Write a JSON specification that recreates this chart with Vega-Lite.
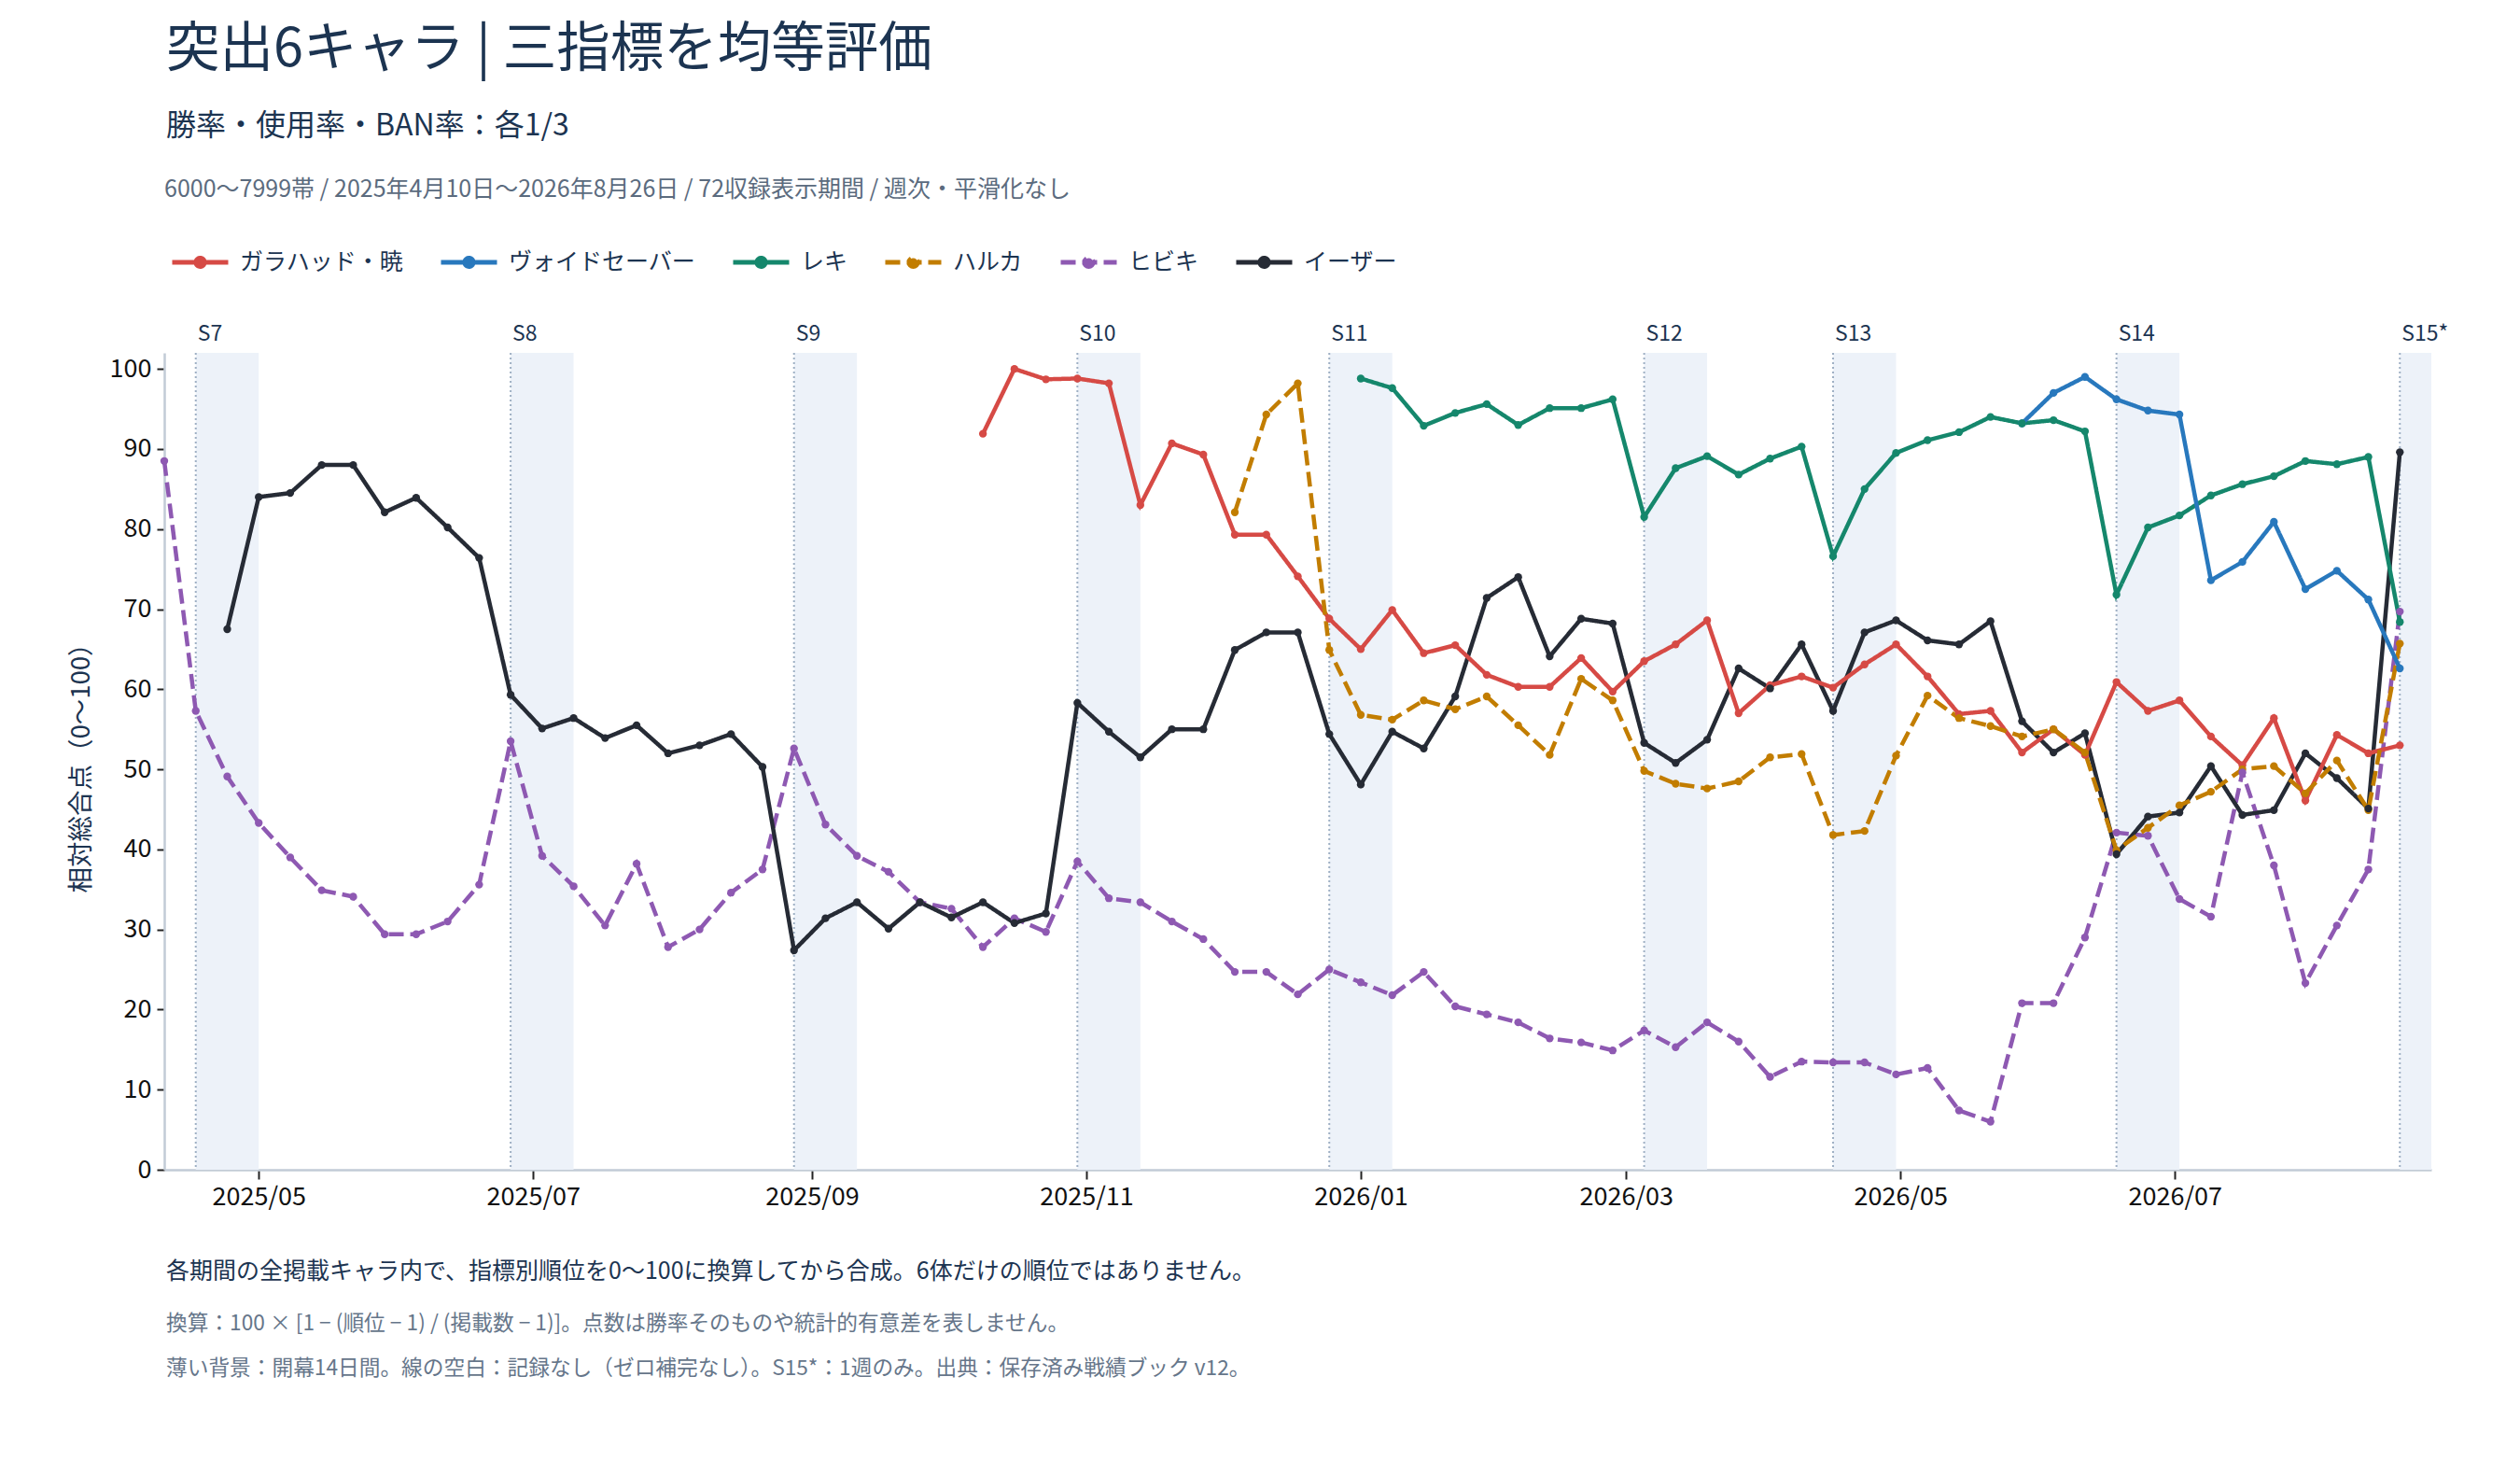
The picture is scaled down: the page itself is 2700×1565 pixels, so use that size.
{
  "$schema": "https://vega.github.io/schema/vega-lite/v6.json",
  "background": "white",
  "padding": {"left": 73, "top": 24, "right": 60, "bottom": 20},
  "config": {
    "font": "Noto Sans CJK JP",
    "view": {"stroke": null}
  },
  "title": {
    "text": "突出6キャラ | 三指標を均等評価",
    "subtitle": "勝率・使用率・BAN率：各1/3",
    "anchor": "start",
    "dx": 105,
    "fontSize": 57.5,
    "fontWeight": "normal",
    "color": "#1c3451",
    "subtitleFontSize": 32,
    "subtitleColor": "#1c3451",
    "subtitlePadding": 37,
    "offset": 39
  },
  "datasets": {
    "seasons": [
      {"season": "S7", "start": "2025-04-17", "end": "2025-05-01"},
      {"season": "S8", "start": "2025-06-26", "end": "2025-07-10"},
      {"season": "S9", "start": "2025-08-28", "end": "2025-09-11"},
      {"season": "S10", "start": "2025-10-30", "end": "2025-11-13"},
      {"season": "S11", "start": "2025-12-25", "end": "2026-01-08"},
      {"season": "S12", "start": "2026-03-05", "end": "2026-03-19"},
      {"season": "S13", "start": "2026-04-16", "end": "2026-04-30"},
      {"season": "S14", "start": "2026-06-18", "end": "2026-07-02"},
      {"season": "S15*", "start": "2026-08-20", "end": "2026-09-03"}
    ],
    "scores": [
      {"d": "2025-04-10", "ヒビキ": 88.5},
      {"d": "2025-04-17", "ヒビキ": 57.3},
      {"d": "2025-04-24", "ヒビキ": 49.1, "イーザー": 67.5},
      {"d": "2025-05-01", "ヒビキ": 43.3, "イーザー": 84.0},
      {"d": "2025-05-08", "ヒビキ": 39.0, "イーザー": 84.5},
      {"d": "2025-05-15", "ヒビキ": 34.9, "イーザー": 88.0},
      {"d": "2025-05-22", "ヒビキ": 34.1, "イーザー": 88.0},
      {"d": "2025-05-29", "ヒビキ": 29.4, "イーザー": 82.1},
      {"d": "2025-06-05", "ヒビキ": 29.4, "イーザー": 83.9},
      {"d": "2025-06-12", "ヒビキ": 31.0, "イーザー": 80.2},
      {"d": "2025-06-19", "ヒビキ": 35.6, "イーザー": 76.4},
      {"d": "2025-06-26", "ヒビキ": 53.5, "イーザー": 59.3},
      {"d": "2025-07-03", "ヒビキ": 39.2, "イーザー": 55.1},
      {"d": "2025-07-10", "ヒビキ": 35.4, "イーザー": 56.4},
      {"d": "2025-07-17", "ヒビキ": 30.5, "イーザー": 53.9},
      {"d": "2025-07-24", "ヒビキ": 38.2, "イーザー": 55.5},
      {"d": "2025-07-31", "ヒビキ": 27.8, "イーザー": 52.0},
      {"d": "2025-08-07", "ヒビキ": 30.0, "イーザー": 53.0},
      {"d": "2025-08-14", "ヒビキ": 34.6, "イーザー": 54.4},
      {"d": "2025-08-21", "ヒビキ": 37.5, "イーザー": 50.3},
      {"d": "2025-08-28", "ヒビキ": 52.6, "イーザー": 27.4},
      {"d": "2025-09-04", "ヒビキ": 43.1, "イーザー": 31.4},
      {"d": "2025-09-11", "ヒビキ": 39.2, "イーザー": 33.4},
      {"d": "2025-09-18", "ヒビキ": 37.2, "イーザー": 30.1},
      {"d": "2025-09-25", "ヒビキ": 33.4, "イーザー": 33.4},
      {"d": "2025-10-02", "ヒビキ": 32.6, "イーザー": 31.5},
      {"d": "2025-10-09", "ガラハッド・暁": 91.9, "ヒビキ": 27.8, "イーザー": 33.4},
      {"d": "2025-10-16", "ガラハッド・暁": 100.0, "ヒビキ": 31.4, "イーザー": 30.8},
      {"d": "2025-10-23", "ガラハッド・暁": 98.7, "ヒビキ": 29.7, "イーザー": 32.0},
      {"d": "2025-10-30", "ガラハッド・暁": 98.8, "ヒビキ": 38.5, "イーザー": 58.3},
      {"d": "2025-11-06", "ガラハッド・暁": 98.2, "ヒビキ": 33.9, "イーザー": 54.7},
      {"d": "2025-11-13", "ガラハッド・暁": 83.0, "ヒビキ": 33.4, "イーザー": 51.5},
      {"d": "2025-11-20", "ガラハッド・暁": 90.7, "ヒビキ": 31.0, "イーザー": 55.0},
      {"d": "2025-11-27", "ガラハッド・暁": 89.3, "ヒビキ": 28.8, "イーザー": 55.0},
      {"d": "2025-12-04", "ガラハッド・暁": 79.3, "ハルカ": 82.1, "ヒビキ": 24.7, "イーザー": 64.9},
      {"d": "2025-12-11", "ガラハッド・暁": 79.3, "ハルカ": 94.3, "ヒビキ": 24.7, "イーザー": 67.1},
      {"d": "2025-12-18", "ガラハッド・暁": 74.1, "ハルカ": 98.2, "ヒビキ": 21.9, "イーザー": 67.1},
      {"d": "2025-12-25", "ガラハッド・暁": 68.8, "ハルカ": 64.9, "ヒビキ": 25.0, "イーザー": 54.4},
      {"d": "2026-01-01", "ガラハッド・暁": 65.0, "レキ": 98.8, "ハルカ": 56.8, "ヒビキ": 23.4, "イーザー": 48.1},
      {"d": "2026-01-08", "ガラハッド・暁": 69.9, "レキ": 97.6, "ハルカ": 56.2, "ヒビキ": 21.8, "イーザー": 54.7},
      {"d": "2026-01-15", "ガラハッド・暁": 64.5, "レキ": 92.9, "ハルカ": 58.6, "ヒビキ": 24.7, "イーザー": 52.6},
      {"d": "2026-01-22", "ガラハッド・暁": 65.5, "レキ": 94.5, "ハルカ": 57.5, "ヒビキ": 20.4, "イーザー": 59.1},
      {"d": "2026-01-29", "ガラハッド・暁": 61.8, "レキ": 95.6, "ハルカ": 59.1, "ヒビキ": 19.4, "イーザー": 71.4},
      {"d": "2026-02-05", "ガラハッド・暁": 60.3, "レキ": 93.0, "ハルカ": 55.5, "ヒビキ": 18.4, "イーザー": 74.0},
      {"d": "2026-02-12", "ガラハッド・暁": 60.3, "レキ": 95.1, "ハルカ": 51.8, "ヒビキ": 16.4, "イーザー": 64.1},
      {"d": "2026-02-19", "ガラハッド・暁": 63.9, "レキ": 95.1, "ハルカ": 61.3, "ヒビキ": 15.9, "イーザー": 68.8},
      {"d": "2026-02-26", "ガラハッド・暁": 59.7, "レキ": 96.2, "ハルカ": 58.6, "ヒビキ": 14.9, "イーザー": 68.2},
      {"d": "2026-03-05", "ガラハッド・暁": 63.5, "レキ": 81.5, "ハルカ": 49.8, "ヒビキ": 17.4, "イーザー": 53.3},
      {"d": "2026-03-12", "ガラハッド・暁": 65.6, "レキ": 87.6, "ハルカ": 48.2, "ヒビキ": 15.3, "イーザー": 50.8},
      {"d": "2026-03-19", "ガラハッド・暁": 68.6, "レキ": 89.1, "ハルカ": 47.6, "ヒビキ": 18.4, "イーザー": 53.7},
      {"d": "2026-03-26", "ガラハッド・暁": 57.0, "レキ": 86.8, "ハルカ": 48.5, "ヒビキ": 16.0, "イーザー": 62.6},
      {"d": "2026-04-02", "ガラハッド・暁": 60.5, "レキ": 88.8, "ハルカ": 51.5, "ヒビキ": 11.6, "イーザー": 60.1},
      {"d": "2026-04-09", "ガラハッド・暁": 61.6, "レキ": 90.3, "ハルカ": 51.9, "ヒビキ": 13.5, "イーザー": 65.6},
      {"d": "2026-04-16", "ガラハッド・暁": 60.2, "レキ": 76.6, "ハルカ": 41.8, "ヒビキ": 13.4, "イーザー": 57.3},
      {"d": "2026-04-23", "ガラハッド・暁": 63.1, "レキ": 85.0, "ハルカ": 42.3, "ヒビキ": 13.4, "イーザー": 67.1},
      {"d": "2026-04-30", "ガラハッド・暁": 65.6, "レキ": 89.5, "ハルカ": 51.7, "ヒビキ": 11.9, "イーザー": 68.6},
      {"d": "2026-05-07", "ガラハッド・暁": 61.6, "レキ": 91.1, "ハルカ": 59.2, "ヒビキ": 12.7, "イーザー": 66.1},
      {"d": "2026-05-14", "ガラハッド・暁": 56.9, "レキ": 92.1, "ハルカ": 56.4, "ヒビキ": 7.4, "イーザー": 65.6},
      {"d": "2026-05-21", "ガラハッド・暁": 57.3, "レキ": 94.0, "ハルカ": 55.4, "ヒビキ": 6.0, "イーザー": 68.5},
      {"d": "2026-05-28", "ガラハッド・暁": 52.1, "ヴォイドセーバー": 93.2, "レキ": 93.2, "ハルカ": 54.1, "ヒビキ": 20.8, "イーザー": 56.0},
      {"d": "2026-06-04", "ガラハッド・暁": 55.0, "ヴォイドセーバー": 97.0, "レキ": 93.6, "ハルカ": 55.0, "ヒビキ": 20.8, "イーザー": 52.1},
      {"d": "2026-06-11", "ガラハッド・暁": 51.8, "ヴォイドセーバー": 99.0, "レキ": 92.2, "ハルカ": 52.1, "ヒビキ": 29.0, "イーザー": 54.5},
      {"d": "2026-06-18", "ガラハッド・暁": 60.9, "ヴォイドセーバー": 96.2, "レキ": 71.8, "ハルカ": 39.9, "ヒビキ": 42.1, "イーザー": 39.4},
      {"d": "2026-06-25", "ガラハッド・暁": 57.3, "ヴォイドセーバー": 94.8, "レキ": 80.2, "ハルカ": 42.7, "ヒビキ": 41.7, "イーザー": 44.1},
      {"d": "2026-07-02", "ガラハッド・暁": 58.6, "ヴォイドセーバー": 94.3, "レキ": 81.7, "ハルカ": 45.5, "ヒビキ": 33.8, "イーザー": 44.6},
      {"d": "2026-07-09", "ガラハッド・暁": 54.1, "ヴォイドセーバー": 73.6, "レキ": 84.2, "ハルカ": 47.2, "ヒビキ": 31.6, "イーザー": 50.4},
      {"d": "2026-07-16", "ガラハッド・暁": 50.5, "ヴォイドセーバー": 75.9, "レキ": 85.6, "ハルカ": 50.0, "ヒビキ": 49.6, "イーザー": 44.3},
      {"d": "2026-07-23", "ガラハッド・暁": 56.4, "ヴォイドセーバー": 80.9, "レキ": 86.6, "ハルカ": 50.4, "ヒビキ": 38.0, "イーザー": 44.9},
      {"d": "2026-07-30", "ガラハッド・暁": 46.1, "ヴォイドセーバー": 72.5, "レキ": 88.5, "ハルカ": 47.0, "ヒビキ": 23.3, "イーザー": 52.0},
      {"d": "2026-08-06", "ガラハッド・暁": 54.3, "ヴォイドセーバー": 74.8, "レキ": 88.1, "ハルカ": 51.1, "ヒビキ": 30.5, "イーザー": 48.9},
      {"d": "2026-08-13", "ガラハッド・暁": 52.0, "ヴォイドセーバー": 71.2, "レキ": 89.0, "ハルカ": 44.9, "ヒビキ": 37.5, "イーザー": 45.1},
      {"d": "2026-08-20", "ガラハッド・暁": 53.0, "ヴォイドセーバー": 62.6, "レキ": 68.4, "ハルカ": 65.7, "ヒビキ": 69.7, "イーザー": 89.6}
    ]
  },
  "vconcat": [
    {
      "width": 2429,
      "height": 875,
      "title": {
        "text": "各期間の全掲載キャラ内で、指標別順位を0〜100に換算してから合成。6体だけの順位ではありません。",
        "subtitle": [
          "換算：100 × [1 − (順位 − 1) / (掲載数 − 1)]。点数は勝率そのものや統計的有意差を表しません。",
          "薄い背景：開幕14日間。線の空白：記録なし（ゼロ補完なし）。S15*：1週のみ。出典：保存済み戦績ブック v12。"
        ],
        "orient": "bottom",
        "anchor": "start",
        "dx": 105,
        "fontSize": 25,
        "fontWeight": "normal",
        "color": "#1c3451",
        "subtitleFontSize": 22.7,
        "subtitleColor": "#66768a",
        "subtitlePadding": 32,
        "subtitleLineHeight": 48,
        "offset": 55
      },
      "layer": [
        {
          "data": {"name": "seasons"},
          "mark": {"type": "rect", "color": "#edf2f9", "clip": true},
          "encoding": {
            "x": {
              "field": "start",
              "type": "temporal",
              "scale": {"type": "utc", "domain": [{"year": 2025, "month": 4, "date": 10, "utc": true}, {"year": 2026, "month": 8, "date": 27, "utc": true}]},
              "axis": {
                "title": null,
                "labelExpr": "utcFormat(datum.value, '%Y/%m')",
                "tickCount": {"interval": "month", "step": 2},
                "grid": false,
                "labelFontSize": 27,
                "labelColor": "#111111",
                "labelPadding": 6,
                "tickColor": "#222222",
                "tickSize": 10,
                "tickWidth": 2,
                "domainColor": "#c2cbd6",
                "domainWidth": 2.5
              }
            },
            "x2": {"field": "end"}
          }
        },
        {
          "data": {"name": "seasons"},
          "mark": {"type": "rule", "color": "#9fb0c4", "strokeDash": [2, 3], "strokeWidth": 2},
          "encoding": {
            "x": {
              "field": "start",
              "type": "temporal",
              "scale": {"type": "utc", "domain": [{"year": 2025, "month": 4, "date": 10, "utc": true}, {"year": 2026, "month": 8, "date": 27, "utc": true}]}
            }
          }
        },
        {
          "data": {"name": "seasons"},
          "mark": {"type": "text", "align": "left", "baseline": "bottom", "dx": 2, "dy": -8, "fontSize": 23, "color": "#1c3451"},
          "encoding": {
            "x": {
              "field": "start",
              "type": "temporal",
              "scale": {"type": "utc", "domain": [{"year": 2025, "month": 4, "date": 10, "utc": true}, {"year": 2026, "month": 8, "date": 27, "utc": true}]}
            },
            "y": {"datum": 102, "type": "quantitative", "scale": {"domain": [0, 102], "nice": false}},
            "text": {"field": "season"}
          }
        },
        {
          "data": {"name": "scores"},
          "transform": [
            {"fold": ["ガラハッド・暁", "ヴォイドセーバー", "レキ", "ハルカ", "ヒビキ", "イーザー"], "as": ["c", "v"]},
            {"filter": "isValid(datum.v)"}
          ],
          "mark": {"type": "line", "strokeWidth": 4.5, "point": {"filled": true, "size": 70}},
          "encoding": {
            "x": {
              "field": "d",
              "type": "temporal",
              "scale": {"type": "utc", "domain": [{"year": 2025, "month": 4, "date": 10, "utc": true}, {"year": 2026, "month": 8, "date": 27, "utc": true}]}
            },
            "y": {
              "field": "v",
              "type": "quantitative",
              "scale": {"domain": [0, 102], "nice": false},
              "axis": {
                "title": "相対総合点（0〜100）",
                "titleFontSize": 27.5,
                "titleFontWeight": "normal",
                "titleColor": "#1c3451",
                "titlePadding": 16,
                "values": [0, 10, 20, 30, 40, 50, 60, 70, 80, 90, 100],
                "labelFontSize": 27,
                "labelColor": "#111111",
                "labelPadding": 6,
                "gridColor": "#e9e9e9",
                "gridWidth": 2,
                "domainColor": "#c2cbd6",
                "domainWidth": 2.5,
                "tickColor": "#222222",
                "tickSize": 8,
                "tickWidth": 2
              }
            },
            "color": {
              "field": "c",
              "type": "nominal",
              "scale": {
                "domain": ["ガラハッド・暁", "ヴォイドセーバー", "レキ", "ハルカ", "ヒビキ", "イーザー"],
                "range": ["#d64a45", "#2878bd", "#15876c", "#c27d00", "#8e59b2", "#262b35"]
              },
              "legend": {
                "orient": "top",
                "direction": "horizontal",
                "title": "6000〜7999帯 / 2025年4月10日〜2026年8月26日 / 72収録表示期間 / 週次・平滑化なし",
                "titleFontSize": 25,
                "titleFontWeight": "normal",
                "titleColor": "#5b6b7e",
                "titleLimit": 2000,
                "titlePadding": 32,
                "labelFontSize": 25,
                "labelColor": "#1c3451",
                "labelLimit": 500,
                "labelOffset": 16,
                "columnPadding": 29,
                "symbolType": "M-0.8,0H1.2M0.05,0A0.15,0.15,0,1,0,0.35,0A0.15,0.15,0,1,0,0.05,0Z",
                "symbolSize": 3600,
                "symbolStrokeWidth": 5,
                "offset": 51,
                "encode": {"symbols": {"update": {"fill": {"scale": "color", "field": "value"}}}}
              }
            },
            "strokeDash": {
              "field": "c",
              "type": "nominal",
              "scale": {
                "domain": ["ガラハッド・暁", "ヴォイドセーバー", "レキ", "ハルカ", "ヒビキ", "イーザー"],
                "range": [[1, 0], [1, 0], [1, 0], [16, 7], [16, 7], [1, 0]]
              }
            }
          }
        }
      ]
    }
  ]
}
